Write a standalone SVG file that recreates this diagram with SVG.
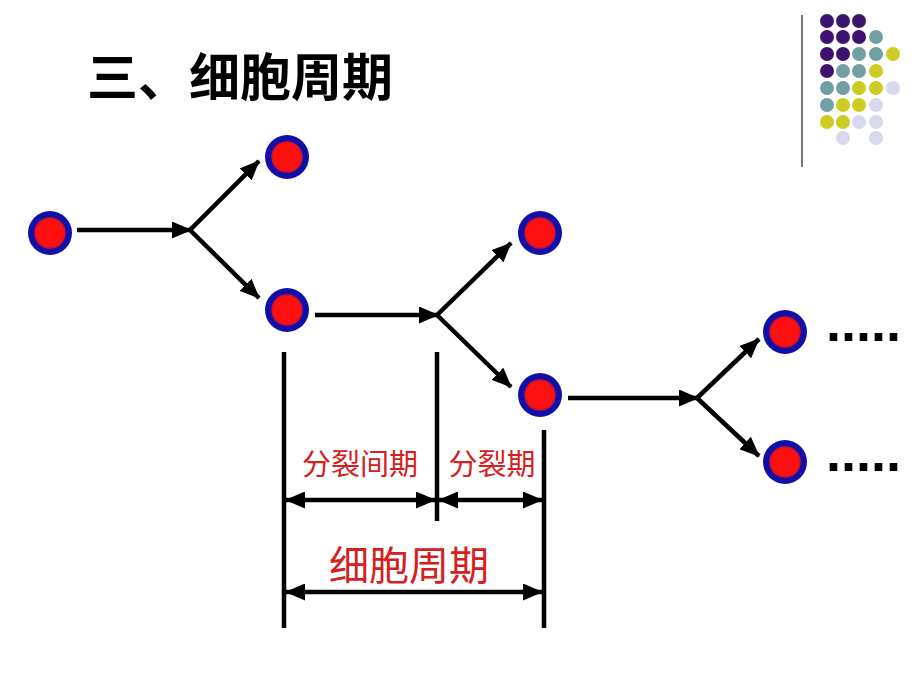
<svg xmlns="http://www.w3.org/2000/svg" width="920" height="690" viewBox="0 0 920 690">
<defs>
<marker id="ah" viewBox="0 0 20 17" refX="19" refY="8.5" markerWidth="20" markerHeight="17" markerUnits="userSpaceOnUse" orient="auto-start-reverse">
<path d="M0,0 L20,8.5 L0,17 Z" fill="#000"/>
</marker>
<g id="cell"><circle r="22" fill="#1010a8"/><circle r="15" fill="#ff1010" stroke="#d01030" stroke-width="1.5"/></g>
</defs>
<style>
.ln{stroke:#000;stroke-width:4.5;fill:none}
.ar{stroke:#000;stroke-width:4.5;fill:none;marker-end:url(#ah)}
.da{stroke:#000;stroke-width:4.5;fill:none;marker-end:url(#ah);marker-start:url(#ah)}
.red{fill:#d42020;font-family:"Liberation Sans","Noto Sans CJK SC",sans-serif;text-anchor:middle}
.dots{font-family:"Liberation Sans",sans-serif;font-weight:bold;font-size:54px;fill:#000}
.p{fill:#3c1470}.t{fill:#72a0a2}.y{fill:#cccc22}.l{fill:#d8d8ec}
</style>
<rect width="920" height="690" fill="#fff"/>
<g id="decor">
<line x1="802" y1="15" x2="802" y2="167" stroke="#777" stroke-width="2"/>
<circle cx="827" cy="21" r="7" class="p"/><circle cx="843" cy="21" r="7" class="p"/><circle cx="859" cy="21" r="7" class="p"/>
<circle cx="827" cy="37" r="7" class="p"/><circle cx="843" cy="37" r="7" class="p"/><circle cx="859" cy="37" r="7" class="p"/><circle cx="876" cy="37" r="7" class="t"/>
<circle cx="827" cy="54" r="7" class="p"/><circle cx="843" cy="54" r="7" class="p"/><circle cx="859" cy="54" r="7" class="t"/><circle cx="876" cy="54" r="7" class="t"/><circle cx="893" cy="54" r="7" class="y"/>
<circle cx="827" cy="71" r="7" class="p"/><circle cx="843" cy="71" r="7" class="t"/><circle cx="859" cy="71" r="7" class="t"/><circle cx="876" cy="71" r="7" class="y"/>
<circle cx="827" cy="88" r="7" class="t"/><circle cx="843" cy="88" r="7" class="t"/><circle cx="859" cy="88" r="7" class="y"/><circle cx="876" cy="88" r="7" class="y"/><circle cx="893" cy="88" r="7" class="l"/>
<circle cx="827" cy="105" r="7" class="t"/><circle cx="843" cy="105" r="7" class="y"/><circle cx="859" cy="105" r="7" class="y"/><circle cx="876" cy="105" r="7" class="l"/>
<circle cx="827" cy="122" r="7" class="y"/><circle cx="843" cy="122" r="7" class="y"/><circle cx="859" cy="122" r="7" class="l"/><circle cx="876" cy="122" r="7" class="l"/>
<circle cx="843" cy="138" r="7" class="l"/><circle cx="876" cy="138" r="7" class="l"/>
</g>
<text id="title" x="87" y="96" font-family="'Noto Sans CJK SC',sans-serif" font-weight="bold" font-size="51" fill="#000">三、细胞周期</text>
<g id="connectors">
<line class="ar" x1="77" y1="230" x2="191" y2="230"/>
<line class="ar" x1="190" y1="230" x2="259" y2="161"/>
<line class="ar" x1="190" y1="230" x2="259" y2="298"/>
<line class="ar" x1="315" y1="315" x2="438" y2="315"/>
<line class="ar" x1="437" y1="315" x2="511" y2="243"/>
<line class="ar" x1="437" y1="315" x2="511" y2="387"/>
<line class="ar" x1="568" y1="398" x2="698" y2="398"/>
<line class="ar" x1="697" y1="398" x2="759" y2="339"/>
<line class="ar" x1="697" y1="398" x2="759" y2="456"/>
<line class="ln" x1="284" y1="352" x2="284" y2="628"/>
<line class="ln" x1="437" y1="352" x2="437" y2="521"/>
<line class="ln" x1="544" y1="430" x2="544" y2="628"/>
<line class="da" x1="286" y1="500" x2="435" y2="500"/>
<line class="da" x1="439" y1="500" x2="542" y2="500"/>
<line class="da" x1="286" y1="592" x2="542" y2="592"/>
</g>
<g id="cell1"><use href="#cell" x="50" y="233"/></g>
<g id="cell2"><use href="#cell" x="287" y="157"/></g>
<g id="cell3"><use href="#cell" x="287" y="310"/></g>
<g id="cell4"><use href="#cell" x="540" y="233"/></g>
<g id="cell5"><use href="#cell" x="540" y="395"/></g>
<g id="cell6"><use href="#cell" x="785" y="332"/><text class="dots" x="826" y="341">.....</text></g>
<g id="cell7"><use href="#cell" x="785" y="462"/><text class="dots" x="826" y="471">.....</text></g>
<g id="labels">
<text class="red" x="360" y="475" font-size="29">分裂间期</text>
<text class="red" x="492" y="475" font-size="29">分裂期</text>
<text class="red" x="409" y="580" font-size="40">细胞周期</text>
</g>
</svg>
